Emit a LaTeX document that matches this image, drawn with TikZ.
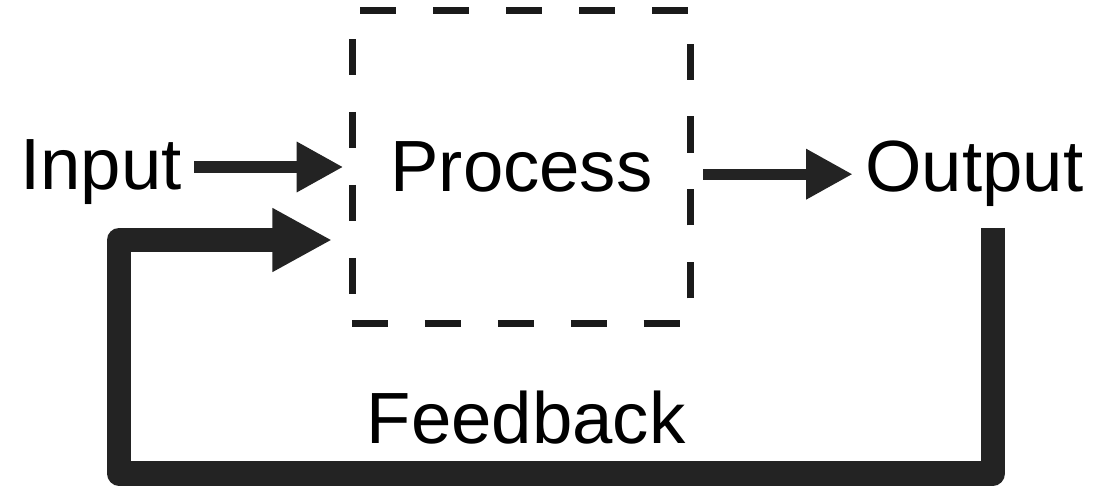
\documentclass[tikz,border=0pt]{standalone}
\usepackage{fontspec}
\setmainfont{Liberation Sans}
\usepackage{xcolor}
\usepackage{tikz}
\usetikzlibrary{arrows.meta,positioning,calc}

\definecolor{inkgray}{HTML}{232323}
\definecolor{boxgray}{HTML}{1A1A1A}

\tikzset{
    lbl/.style={font=\fontsize{41.3}{50}\selectfont, inner sep=0pt},
    procbox/.style={draw=boxgray, line width=4pt, dash pattern=on 20.5pt off 21pt,
        minimum width=6.78cm, minimum height=6.28cm, inner sep=0pt,
        font=\fontsize{41.3}{50}\selectfont},
    flowarrow/.style={draw=inkgray, line width=6.4pt,
        -{Triangle[length=26.5pt,width=27pt]}},
    fbarrow/.style={draw=inkgray, line width=13.7pt, line join=round,
        -{Triangle[length=34pt,width=34pt]}}
}

\begin{document}
\begin{tikzpicture}[x=0.02cm,y=-0.02cm]
    \useasboundingbox (0,0) rectangle (1119,486);

    % Process box (dashed)
    \node[procbox] (proc) at (521.5,167) {Process};

    % Input and output
    \node[lbl, anchor=base west] (inp) at (20,190) {Input};
    \node[lbl, anchor=base west] (out) at (865,192) {Output};
    \draw[flowarrow, shorten <=7pt, shorten >=3pt] (inp.east |- proc.west) -- (proc.west);
    \draw[flowarrow, shorten <=5pt, shorten >=7pt] (proc.east |- out.west) -- (out.west);

    % Feedback loop
    \node[lbl, anchor=base] (fb) at (526,443) {Feedback};
    \coordinate (fbstart) at (993,228);
    \coordinate (fbturn) at (119,473.5);
    \coordinate (fbend) at ($(proc.west)+(0,73)$);
    \draw[fbarrow, shorten >=9.4pt] (fbstart) |- (fbturn) |- (fbend);
\end{tikzpicture}
\end{document}
